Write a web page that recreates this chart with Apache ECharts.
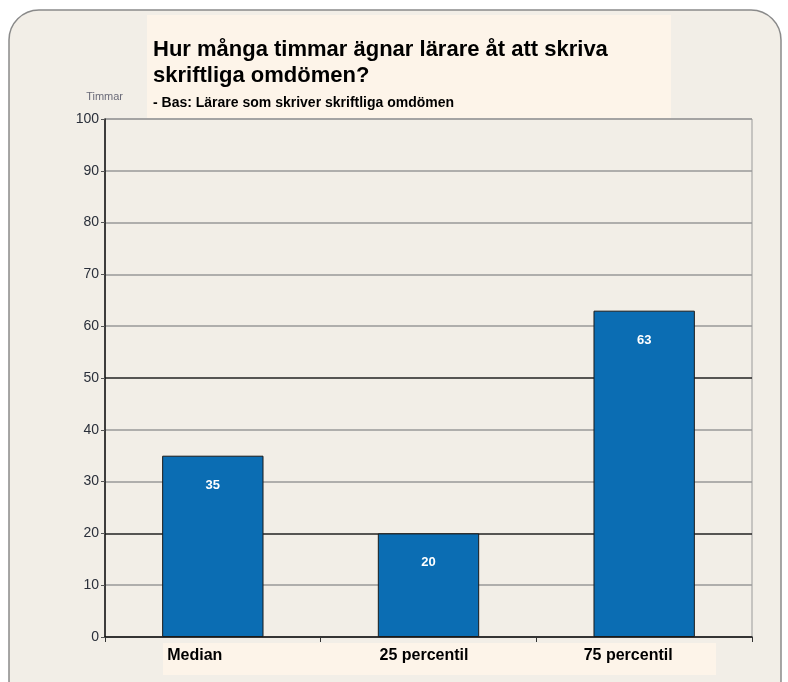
<!DOCTYPE html>
<html>
<head>
<meta charset="utf-8">
<script src="https://cdn.jsdelivr.net/npm/echarts@6/dist/echarts.min.js"></script>
<style>
    html, body { margin: 0; padding: 0; background: #ffffff; }
    #main { width: 788px; height: 682px; }
</style>
</head>
<body>
<div id="main"></div>
<script>
// data
var categories = ['Median', '25 percentil', '75 percentil']
var hours = [35, 20, 63]
var yTicks = [0, 10, 20, 30, 40, 50, 60, 70, 80, 90, 100]

var labelShift = [36, 9, 32] // right padding to nudge labels left

var myChart = echarts.init(document.getElementById('main'))

var option = {
    backgroundColor: '#ffffff',
    textStyle: { fontFamily: 'Liberation Sans, Arial, sans-serif' },
    title: {
        text: 'Hur många timmar ägnar lärare åt att skriva\nskriftliga omdömen?',
        subtext: '- Bas: Lärare som skriver skriftliga omdömen',
        left: 148,
        top: 32,
        itemGap: 7,
        textStyle: {
            fontSize: 22,
            fontWeight: 'bold',
            color: '#000',
            lineHeight: 26,
        },
        subtextStyle: {
            fontSize: 14,
            fontWeight: 'bold',
            color: '#000',
        },
    },
    graphic: [
        {
            type: 'rect',
            z: -10,
            shape: { x: 9, y: 10, width: 772, height: 700, r: 30 },
            style: { fill: '#f2eee7', stroke: '#8a8a8a', lineWidth: 1.5 },
        },
        {
            type: 'rect',
            z: -9,
            shape: { x: 147, y: 15, width: 524, height: 103 },
            style: { fill: '#fdf4e9' },
        },
        {
            type: 'rect',
            z: -9,
            shape: { x: 163, y: 643, width: 553, height: 32 },
            style: { fill: '#fdf4e9' },
        },
    ],
    grid: {
        left: 105,
        right: 36,
        top: 119,
        bottom: 45,
        show: true,
        borderColor: '#9a9a9a',
        borderWidth: 1,
        backgroundColor: 'transparent',
    },
    xAxis: {
        type: 'category',
        data: categories.map(function (c, i) {
            return { value: c, textStyle: { padding: [0, labelShift[i], 0, 0] } }
        }),
        axisLine: { lineStyle: { color: '#111', width: 1.5 } },
        axisTick: { show: true, length: 5, lineStyle: { color: '#333' } },
        axisLabel: {
            fontSize: 16,
            fontWeight: 'bold',
            color: '#000',
            margin: 11,
        },
    },
    yAxis: {
        type: 'value',
        min: yTicks[0],
        max: yTicks[yTicks.length - 1],
        interval: 10,
        name: 'Timmar',
        nameLocation: 'end',
        nameGap: 17,
        nameTextStyle: { fontSize: 11, color: '#6a6a78', align: 'right', padding: [0, -18, 0, 0] },
        axisLine: { show: true, lineStyle: { color: '#111', width: 1.5 } },
        axisTick: { show: true, length: 4, lineStyle: { color: '#555' } },
        axisLabel: { fontSize: 14, color: '#2a2f3a', margin: 6 },
        splitLine: {
            lineStyle: {
                color: ['#999', '#999', '#222', '#999', '#999', '#222', '#999', '#999', '#999', '#999', '#999'],
                width: 1.5,
            },
        },
    },
    series: [
        {
            type: 'bar',
            data: hours,
            barWidth: '47%',
            itemStyle: {
                color: '#0b6db3',
                borderColor: '#1a1a1a',
                borderWidth: 1,
            },
            label: {
                show: true,
                position: 'insideTop',
                distance: 23,
                color: '#ffffff',
                fontSize: 13,
                fontWeight: 'bold',
            },
        },
    ],
}

myChart.setOption(option)
</script>
</body>
</html>
